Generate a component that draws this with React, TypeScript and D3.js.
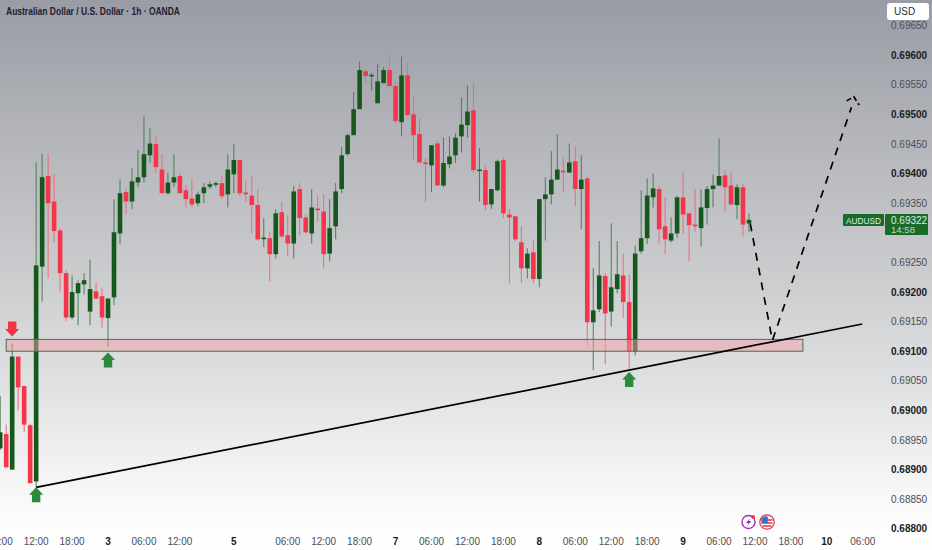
import React from "react";
import * as d3 from "d3";

const W = 932, H = 550;

// prices in points (1 point = 0.00001)
const opens = [68936,68960,68900,69091,69041,68975,68880,69243,69396,69353,69304,69232,69157,69198,69213,69167,69201,69193,69156,69191,69299,69369,69353,69385,69394,69431,69450,69407,69367,69385,69396,69372,69358,69350,69367,69378,69382,69384,69365,69399,69423,69368,69363,69347,69290,69291,69264,69335,69296,69282,69374,69326,69299,69341,69336,69265,69311,69374,69433,69465,69509,69573,69565,69519,69553,69575,69548,69487,69566,69500,69467,69419,69414,69451,69380,69416,69431,69463,69482,69507,69405,69406,69348,69372,69423,69331,69328,69284,69240,69267,69222,69357,69365,69390,69405,69402,69421,69374,69392,69149,69171,69227,69167,69205,69228,69183,69100,69269,69291,69360,69374,69311,69287,69299,69360,69333,69314,69308,69342,69374,69380,69397,69380,69347,69377,69316];
const highs = [69025,68976,69113,69091,69041,68978,69419,69434,69433,69399,69308,69237,69228,69220,69232,69255,69216,69206,69189,69357,69390,69375,69409,69440,69497,69477,69463,69433,69402,69433,69401,69380,69392,69370,69384,69387,69387,69397,69433,69450,69423,69390,69396,69374,69325,69301,69340,69353,69331,69379,69384,69331,69374,69363,69365,69357,69384,69445,69468,69538,69590,69578,69570,69585,69580,69603,69556,69598,69588,69531,69494,69426,69448,69456,69461,69463,69468,69529,69549,69553,69443,69414,69374,69424,69428,69340,69328,69311,69274,69287,69357,69394,69438,69467,69428,69451,69446,69431,69394,69240,69286,69232,69316,69286,69265,69230,69279,69372,69392,69401,69379,69360,69326,69363,69402,69333,69374,69374,69379,69399,69460,69406,69402,69382,69382,69333];
const lows = [68933,68902,68900,69000,68963,68877,68870,69184,69223,69284,69201,69151,69154,69144,69196,69144,69188,69140,69107,69178,69281,69331,69340,69377,69385,69418,69402,69367,69365,69377,69367,69343,69343,69345,69350,69374,69377,69358,69343,69367,69362,69353,69299,69287,69276,69218,69257,69291,69260,69257,69296,69299,69282,69319,69240,69252,69289,69367,69431,69465,69509,69553,69541,69519,69553,69548,69485,69463,69497,69424,69418,69352,69369,69380,69377,69409,69418,69436,69461,69401,69353,69338,69340,69370,69325,69215,69286,69215,69223,69215,69208,69287,69348,69390,69369,69401,69345,69306,69110,69068,69166,69078,69142,69198,69156,69069,69093,69265,69281,69343,69282,69264,69284,69292,69299,69252,69301,69277,69314,69343,69380,69335,69348,69323,69294,69301];
const closes = [68963,68904,69091,69039,68976,68877,69245,69394,69350,69303,69232,69157,69200,69215,69220,69205,69189,69157,69189,69301,69367,69353,69387,69394,69433,69451,69411,69367,69385,69394,69367,69357,69348,69365,69377,69382,69384,69362,69407,69423,69367,69366,69347,69289,69292,69264,69333,69294,69282,69370,69325,69301,69343,69339,69264,69308,69370,69431,69465,69509,69575,69565,69567,69556,69575,69548,69489,69566,69499,69465,69419,69417,69448,69380,69418,69429,69461,69483,69505,69406,69407,69347,69374,69421,69333,69326,69289,69240,69265,69222,69357,69365,69390,69407,69403,69419,69374,69390,69149,69169,69228,69164,69208,69230,69183,69100,69265,69291,69363,69375,69306,69289,69299,69360,69331,69313,69312,69343,69374,69380,69396,69377,69348,69377,69314,69322];

const priceTicks = [69650,69600,69550,69500,69450,69400,69350,69250,69200,69150,69100,69050,69000,68950,68900,68850,68800];
const timeBars = [0,6,12,18,24,30,39,48,54,60,66,72,78,84,90,96,102,108,114,120,126,132,138,144];
const timeLabels = ["06:00","12:00","18:00","3","06:00","12:00","5","06:00","12:00","18:00","7","06:00","12:00","18:00","8","06:00","12:00","18:00","9","06:00","12:00","18:00","10","06:00"];
const boldLabels = ["3","5","7","8","9","10"];

const zoneStartBar = 1, zoneEndBar = 134, zoneTop = 69120, zoneBottom = 69100;
const trendBars = [6, 143.9];
const trendPrices = [68870, 69146];
const pathBars = [125.2, 128.9, 142.1];
const pathPrices = [69316, 69118, 69512];
const headBars = [141.3, 142.5, 143.4];
const headPrices = [69523, 69530, 69516];
const upArrowBars = [6, 18, 105];
const upArrowPrices = [68870, 69098, 69065];
const downArrowBars = [2];
const downArrowPrices = [69125];

const x = d3.scaleLinear().domain([0, 125]).range([0.2, 749]);
const y = d3.scaleLinear().domain([69650, 68800]).range([25.7, 528.8]);

const GREEN = "#14591e", RED = "#f5354a";
const GREEN_WICK = "#4d7c57", RED_WICK = "#ee6a78";
const FONT = "'Liberation Sans', Arial, sans-serif";

const line = d3.line<[number, number]>().x(d => x(d[0])).y(d => y(d[1]));
const zip = (a: number[], b: number[]) => a.map((v, i) => [v, b[i]] as [number, number]);

function Arrow({ cx, tip, dir, fill }: { cx: number; tip: number; dir: 1 | -1; fill: string }) {
  const p = (dx: number, dy: number) => `${cx + dx},${tip + dir * dy}`;
  return <polygon fill={fill} points={[p(0, 0), p(7, 7.5), p(4.2, 7.5), p(4.2, 15), p(-4.2, 15), p(-4.2, 7.5), p(-7, 7.5)].join(" ")} />;
}

export default function App() {
  const bodyW = 4.6;
  return (
    <svg width={W} height={H} viewBox={`0 0 ${W} ${H}`} style={{ position: "absolute", left: 0, top: 0, display: "block", fontFamily: FONT }}>
      <defs>
        <linearGradient id="bg" x1="0" y1="0" x2="0" y2="1">
          <stop offset="0" stopColor="#999ca4" />
          <stop offset="0.25" stopColor="#b3b5ba" />
          <stop offset="0.5" stopColor="#cbccce" />
          <stop offset="0.72" stopColor="#e2e3e4" />
          <stop offset="0.92" stopColor="#fafafa" />
          <stop offset="1" stopColor="#ffffff" />
        </linearGradient>
        <filter id="soft"><feGaussianBlur stdDeviation="0.25" /></filter>
      </defs>
      <rect width={W} height={H} fill="url(#bg)" />

      <text x={6} y={14.5} fontSize={10} fontWeight={700} textLength={174} lengthAdjust="spacingAndGlyphs" fill="#1c2230">Australian Dollar / U.S. Dollar · 1h · OANDA</text>

      <g filter="url(#soft)">
        {opens.map((o, i) => {
          const c = closes[i];
          const up = c >= o;
          const top = y(Math.max(o, c));
          const h = Math.max(1.6, y(Math.min(o, c)) - top);
          return (
            <g key={i}>
              <line x1={x(i)} x2={x(i)} y1={y(highs[i])} y2={y(lows[i])} stroke={up ? GREEN_WICK : RED_WICK} strokeWidth={1} />
              <rect x={x(i) - bodyW / 2} y={top} width={bodyW} height={h} fill={up ? GREEN : RED} />
            </g>
          );
        })}
      </g>

      <rect x={x(zoneStartBar)} y={y(zoneTop)} width={x(zoneEndBar) - x(zoneStartBar)} height={y(zoneBottom) - y(zoneTop)}
        fill="#f0a0a8" fillOpacity={0.5} stroke="#4e6b52" strokeWidth={1} />

      <path d={line(zip(trendBars, trendPrices)) ?? ""} fill="none" stroke="#000" strokeWidth={1.7} />
      <path d={line(zip(pathBars, pathPrices)) ?? ""} fill="none" stroke="#000" strokeWidth={1.7} strokeDasharray="8 7" />
      <path d={line(zip(headBars, headPrices)) ?? ""} fill="none" stroke="#000" strokeWidth={1.7} strokeDasharray="5 3" />

      {upArrowBars.map((b, i) => <Arrow key={i} cx={x(b)} tip={y(upArrowPrices[i])} dir={1} fill="#2b8a3e" />)}
      {downArrowBars.map((b, i) => <Arrow key={i} cx={x(b)} tip={y(downArrowPrices[i])} dir={-1} fill="#f23645" />)}

      {priceTicks.map(p => {
        const major = p % 100 === 0;
        return (
          <text key={p} x={891} y={y(p) + 3.6} fontSize={10} fontWeight={major ? 700 : 400} fill={major ? "#1a1d24" : "#4a4e58"}>
            {(p / 100000).toFixed(5)}
          </text>
        );
      })}

      {timeLabels.map((t, i) => {
        const bold = boldLabels.includes(t);
        return (
          <text key={i} x={x(timeBars[i])} y={544.5} textAnchor="middle" fontSize={10} fontWeight={bold ? 700 : 400} fill={bold ? "#1a1d24" : "#4a4e58"}>{t}</text>
        );
      })}

      <rect x={887} y={3} width={42} height={17} rx={3} fill="#fff" />
      <text x={894} y={15} fontSize={10} fill="#2a2e39">USD</text>

      <rect x={843} y={214} width={41} height={12} rx={1} fill="#1a6b2a" />
      <text x={846} y={223.6} fontSize={9} textLength={35} lengthAdjust="spacingAndGlyphs" fill="#dfeee1">AUDUSD</text>
      <rect x={885} y={214} width={43} height={21} rx={1} fill="#1a6b2a" />
      <text x={891} y={223.6} fontSize={10} fill="#dfeee1">0.69322</text>
      <text x={891} y={233} fontSize={9.6} fill="#bfdcc4">14:58</text>

      <g transform="translate(748.5,522)">
        <circle r={6.5} fill="#fff" stroke="#9c27b0" strokeWidth={1.3} />
        <path d="M1.5,-4 L-2.5,1 L0,1 L-1.5,4.2 L2.8,-1 L0.2,-1 Z" fill="#9c27b0" />
        <circle cx={4.6} cy={-5} r={1.9} fill="#f23645" />
      </g>
      <g transform="translate(767,522)">
        <circle r={7.2} fill="#fff" stroke="#e0303f" strokeWidth={1.2} />
        <path d="M-5.5,-2 H5.5 M-5.5,1 H5.5 M-4.5,4 H4.5" stroke="#e0303f" strokeWidth={1.4} />
        <path d="M-5.5,1 V-3.5 A6,6 0 0 1 0.8,-5.5 V1 Z" fill="#3f6fc4" />
      </g>
    </svg>
  );
}
